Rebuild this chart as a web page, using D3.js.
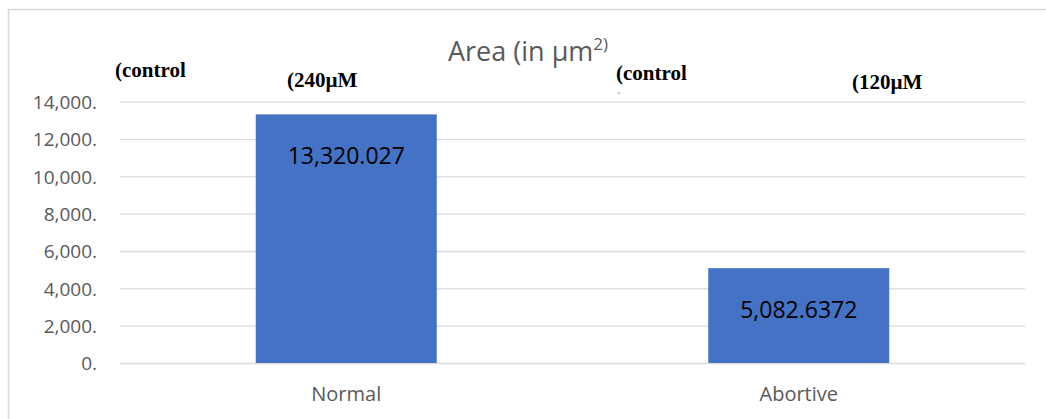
<!DOCTYPE html>
<html>
<head>
<meta charset="utf-8">
<script src="https://cdn.jsdelivr.net/npm/d3@7"></script>
<style>
  html, body { margin: 0; padding: 0; background: #fff; }
  svg { display: block; }
</style>
</head>
<body>
<svg id="chart" width="1046" height="419"></svg>
<script>
// Mean area per embryo group
const categories = ["Normal", "Abortive"];
const areaValues = [13320.027, 5082.6372];
const valueLabels = ["13,320.027", "5,082.6372"];
const yTicks = [0, 2000, 4000, 6000, 8000, 10000, 12000, 14000];
const yTickLabels = ["0.", "2,000.", "4,000.", "6,000.", "8,000.", "10,000.", "12,000.", "14,000."];
const notes = ["(control", "(240µM", "(control", "(120µM"];

const svg = d3.select("#chart");
const W = 1046, H = 419;
const plot = { left: 120, right: 1025, top: 101.7, bottom: 363 };

// chart frame
svg.append("rect")
  .attr("x", 8.5).attr("y", 9.5)
  .attr("width", W + 20).attr("height", H + 20)
  .attr("fill", "#fff")
  .attr("stroke", "#d9d9d9").attr("stroke-width", 1.5);

const x = d3.scaleBand().domain(categories).range([plot.left, plot.right]).padding(0);
const y = d3.scaleLinear().domain([0, 14000]).range([plot.bottom, plot.top]);

// horizontal gridlines
const yAxis = d3.axisLeft(y)
  .tickValues(yTicks)
  .tickSize(-(plot.right - plot.left))
  .tickPadding(23)
  .tickFormat((d, i) => yTickLabels[i]);

const gy = svg.append("g")
  .attr("transform", `translate(${plot.left},0)`)
  .call(yAxis);
gy.select(".domain").remove();
gy.selectAll(".tick line").attr("stroke", "#d9d9d9").attr("stroke-width", 1.3);
gy.selectAll(".tick text")
  .attr("fill", "#595959")
  .attr("font-family", "'Open Sans', sans-serif")
  .attr("font-size", 19)
  .attr("dy", "0.36em");

// bars
const barW = x.bandwidth() * 0.4;
svg.append("g").selectAll("rect")
  .data(categories)
  .join("rect")
  .attr("x", d => x(d) + (x.bandwidth() - barW) / 2)
  .attr("width", barW)
  .attr("y", (d, i) => y(areaValues[i]))
  .attr("height", (d, i) => y(0) - y(areaValues[i]))
  .attr("fill", "#4472c4");

// value labels inside the bars
svg.append("g").selectAll("text")
  .data(categories)
  .join("text")
  .attr("x", d => x(d) + x.bandwidth() / 2)
  .attr("y", (d, i) => y(areaValues[i]) + 50)
  .attr("text-anchor", "middle")
  .attr("font-family", "'Open Sans', sans-serif")
  .attr("font-size", 23)
  .attr("fill", "#000")
  .text((d, i) => valueLabels[i]);

// category axis labels
const xAxis = d3.axisBottom(x).tickSize(0).tickPadding(24);
const gx = svg.append("g")
  .attr("transform", `translate(0,${plot.bottom})`)
  .call(xAxis);
gx.select(".domain").remove();
gx.selectAll(".tick text")
  .attr("fill", "#595959")
  .attr("font-family", "'Open Sans', sans-serif")
  .attr("font-size", 20);

// title
const title = svg.append("text")
  .attr("x", 448).attr("y", 61)
  .attr("font-family", "'Open Sans', sans-serif")
  .attr("font-size", 27)
  .attr("fill", "#595959");
title.append("tspan").text("Area (in µm");
title.append("tspan").attr("font-size", 17).attr("dy", -11).text("2)");

// treatment notes above the bars
const notePos = [[115, 77], [287, 87], [616, 80], [852, 89]];
svg.append("g").selectAll("text")
  .data(notes)
  .join("text")
  .attr("x", (d, i) => notePos[i][0])
  .attr("y", (d, i) => notePos[i][1])
  .attr("font-family", "'Liberation Serif', 'Times New Roman', serif")
  .attr("font-weight", "bold")
  .attr("font-size", 21)
  .attr("fill", "#000")
  .text(d => d);

svg.append("text")
  .attr("x", 617).attr("y", 100)
  .attr("font-family", "'Liberation Serif', serif")
  .attr("font-size", 11)
  .attr("fill", "#444")
  .text("`");
</script>
</body>
</html>
